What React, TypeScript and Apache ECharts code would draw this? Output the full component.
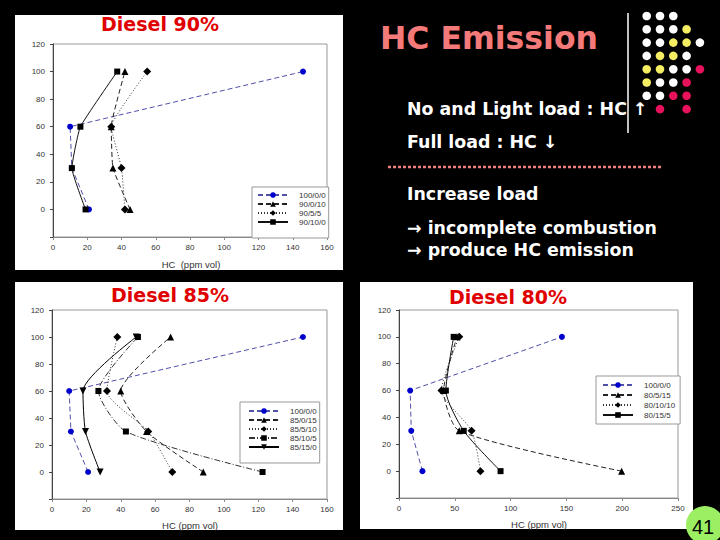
import React, { useEffect, useRef } from "react";
import * as echarts from "echarts";

// Engine load (%) for each measurement point
const loads = [0, 30, 60, 100];

// Panel 1: Diesel 90%
const names90 = ["100/0/0", "90/0/10", "90/5/5", "90/10/0"];
const hc100 = [21, 11, 10, 146];
const hc90_0_10 = [45, 35, 34, 42];
const hc90_5_5 = [42, 40, 34, 55];
const hc90_10_0 = [19, 11, 16, 37.5];

// Panel 2: Diesel 85%
const names85 = ["100/0/0", "85/0/15", "85/5/10", "85/10/5", "85/15/0"];
const hc85_0_15 = [88, 55, 40, 69];
const hc85_5_10 = [70, 56, 32, 38];
const hc85_10_5 = [122.5, 43, 27, 50];
const hc85_15_0 = [28, 19.5, 18, 49];

// Panel 3: Diesel 80%
const names80 = ["100/0/0", "80/5/15", "80/10/10", "80/15/5"];
const hc80_5_15 = [199.5, 54, 40, 52];
const hc80_10_10 = [73, 65, 38, 54];
const hc80_15_5 = [91, 58, 42, 49];

// Axis ticks
const yTicks = { min: -20, max: 120, interval: 20 };
const xTicks12 = { min: 0, max: 160, interval: 20 };
const xTicks3 = { min: 0, max: 250, interval: 50 };

const titles = ["Diesel 90%", "Diesel 85%", "Diesel 80%"];
const bulletLines = [
  "No and Light load : HC ↑",
  "Full load : HC ↓",
  "Increase load",
  "→ incomplete combustion",
  "→ produce HC emission",
];
// dot pattern: W white, Y yellow, P pink, - none
const dotRows = ["WWW--", "WWWY-", "WWYYW", "WYYW-", "YYWWP", "YWWP-", "WWPP-", "-P-P-"];

const FONT = "Liberation Sans, Arial, sans-serif";
const BOLD = "DejaVu Sans, Liberation Sans, sans-serif";

const toPts = (xs: number[]) => xs.map((x, i) => [x, loads[i]]);

type Sty = { symbol: string; size: number; rotate?: number; line: any; color: string; lineColor: string };
const styBlue: Sty = { symbol: "circle", size: 6, line: [5, 3], color: "#0000cc", lineColor: "#5050a8" };
const styTri: Sty = { symbol: "triangle", size: 7, line: [5, 3], color: "#000", lineColor: "#222" };
const styDia: Sty = { symbol: "diamond", size: 8, line: [1, 2], color: "#000", lineColor: "#333" };
const stySq: Sty = { symbol: "rect", size: 6, line: "solid", color: "#000", lineColor: "#111" };
const stySqDD: Sty = { symbol: "rect", size: 6, line: [6, 2, 1, 2], color: "#000", lineColor: "#333" };
const styInv: Sty = { symbol: "triangle", size: 7, rotate: 180, line: "solid", color: "#000", lineColor: "#000" };

function mk(name: string, xs: number[], s: Sty, idx: number, smooth: number | boolean) {
  return {
    type: "line",
    name,
    xAxisIndex: idx,
    yAxisIndex: idx,
    data: toPts(xs),
    symbol: s.symbol,
    symbolSize: s.size,
    symbolRotate: s.rotate || 0,
    smooth,
    itemStyle: { color: s.color },
    lineStyle: { color: s.lineColor, width: 1, type: s.line },
    z: 3,
  };
}

export default function App() {
  const ref = useRef<HTMLDivElement>(null);
  useEffect(() => {
    if (!ref.current) return;
    const chart = echarts.init(ref.current, null, { renderer: "svg" });

    const grids = [
      { left: 53, top: 44, width: 274, height: 193 },
      { left: 52, top: 310, width: 275, height: 189 },
      { left: 399, top: 310, width: 279, height: 188 },
    ];

    const xAxis = grids.map((_, i) => ({
      type: "value",
      gridIndex: i,
      ...(i < 2 ? xTicks12 : xTicks3),
      axisLine: { show: true, onZero: false, lineStyle: { color: "#888", width: 1 } },
      axisTick: { show: true, length: 3, lineStyle: { color: "#888" } },
      axisLabel: { fontSize: 8, color: "#333", margin: 6, fontFamily: FONT },
      splitLine: { show: false },
    }));
    const yAxis = grids.map((_, i) => ({
      type: "value",
      gridIndex: i,
      ...yTicks,
      axisLine: { show: true, onZero: false, lineStyle: { color: "#444", width: 1 } },
      axisTick: { show: true, length: 3, lineStyle: { color: "#444" } },
      axisLabel: {
        fontSize: 8,
        color: "#333",
        margin: 8,
        fontFamily: FONT,
        formatter: (v: number) => (v < 0 ? "" : String(v)),
      },
      splitLine: { show: false },
    }));

    const s1 = 0.12;
    const s2 = 0.22;
    const series = [
      mk(names90[0], hc100, styBlue, 0, false),
      mk(names90[1], hc90_0_10, styTri, 0, s1),
      mk(names90[2], hc90_5_5, styDia, 0, s1),
      mk(names90[3], hc90_10_0, stySq, 0, s1),
      mk(names85[0], hc100, styBlue, 1, false),
      mk(names85[1], hc85_0_15, styTri, 1, s2),
      mk(names85[2], hc85_5_10, styDia, 1, s2),
      mk(names85[3], hc85_10_5, stySqDD, 1, s2),
      mk(names85[4], hc85_15_0, styInv, 1, s2),
      mk(names80[0], hc100, styBlue, 2, false),
      mk(names80[1], hc80_5_15, styTri, 2, s2),
      mk(names80[2], hc80_10_10, styDia, 2, s2),
      mk(names80[3], hc80_15_5, stySq, 2, s2),
    ];

    const legendBase = {
      orient: "vertical",
      itemWidth: 30,
      itemHeight: 7,
      itemGap: 1,
      borderColor: "#999",
      borderWidth: 1,
      borderRadius: 0,
      backgroundColor: "#fff",
      selectedMode: false,
      textStyle: { fontSize: 8, color: "#333", fontFamily: FONT, padding: [0, 0, 0, 6] },
    };
    const legend = [
      { ...legendBase, data: names90, left: 252, top: 187, padding: [4, 3, 12, 5] },
      { ...legendBase, data: names85, left: 240, top: 402, padding: [5, 3, 12, 8] },
      { ...legendBase, data: names80, left: 596, top: 376, padding: [5, 5, 5, 6], itemGap: 2 },
    ];

    const dotColors: Record<string, string> = { W: "#ffffff", Y: "#f6ee62", P: "#e8125c" };
    const dots: any[] = [];
    dotRows.forEach((row, r) => {
      row.split("").forEach((c, k) => {
        if (c === "-") return;
        dots.push({
          type: "circle",
          shape: { cx: 646.7 + k * 13.3, cy: 16 + r * 13.3, r: 4.3 },
          style: { fill: dotColors[c] },
        });
      });
    });

    const bulletY = [109, 142, 194, 228, 250];

    const graphic = [
      { type: "rect", z: -10, shape: { x: 15, y: 15, width: 328, height: 255 }, style: { fill: "#fff" } },
      { type: "rect", z: -10, shape: { x: 15, y: 282, width: 328, height: 248 }, style: { fill: "#fff" } },
      { type: "rect", z: -10, shape: { x: 360, y: 282, width: 333, height: 247 }, style: { fill: "#fff" } },
      ...[
        [160, 24],
        [170, 295],
        [508, 297],
      ].map(([x, y], i) => ({
        type: "text",
        x,
        y,
        style: {
          text: titles[i],
          fill: "#e00000",
          font: `bold 19px ${BOLD}`,
          textAlign: "center",
          textVerticalAlign: "middle",
        },
      })),
      ...[
        [191, 264, "HC  (ppm vol)"],
        [190, 525, "HC (ppm vol)"],
        [539, 524, "HC (ppm vol)"],
      ].map(([x, y, t]) => ({
        type: "text",
        x,
        y,
        style: { text: t, fill: "#333", font: `9.5px ${FONT}`, textAlign: "center", textVerticalAlign: "middle" },
      })),
      {
        type: "text",
        x: 380,
        y: 38,
        style: { text: "HC Emission", fill: "#f47a7a", font: `bold 31.5px ${BOLD}`, textVerticalAlign: "middle" },
      },
      ...bulletLines.map((t, i) => ({
        type: "text",
        x: 407,
        y: bulletY[i],
        style: { text: t, fill: "#fff", font: `bold 17.4px ${BOLD}`, textVerticalAlign: "middle" },
      })),
      {
        type: "line",
        shape: { x1: 388, y1: 167, x2: 661, y2: 167 },
        style: { stroke: "#f08080", lineWidth: 2.5, lineDash: [3, 2] },
      },
      {
        type: "line",
        shape: { x1: 628, y1: 13, x2: 628, y2: 133 },
        style: { stroke: "#fff", lineWidth: 1.5 },
      },
      ...dots,
      { type: "circle", shape: { cx: 705, cy: 525, r: 19 }, style: { fill: "#9cef62" } },
      {
        type: "text",
        x: 703,
        y: 527,
        style: { text: "41", fill: "#000", font: `20px ${FONT}`, textAlign: "center", textVerticalAlign: "middle" },
      },
    ];

    chart.setOption({
      animation: false,
      backgroundColor: "#000",
      grid: grids.map((g) => ({ ...g, show: true, borderColor: "#999", borderWidth: 1, backgroundColor: "transparent" })),
      xAxis,
      yAxis,
      legend,
      series,
      graphic,
    });
    return () => chart.dispose();
  }, []);
  return <div ref={ref} style={{ position: "fixed", left: 0, top: 0, width: 720, height: 540 }} />;
}
